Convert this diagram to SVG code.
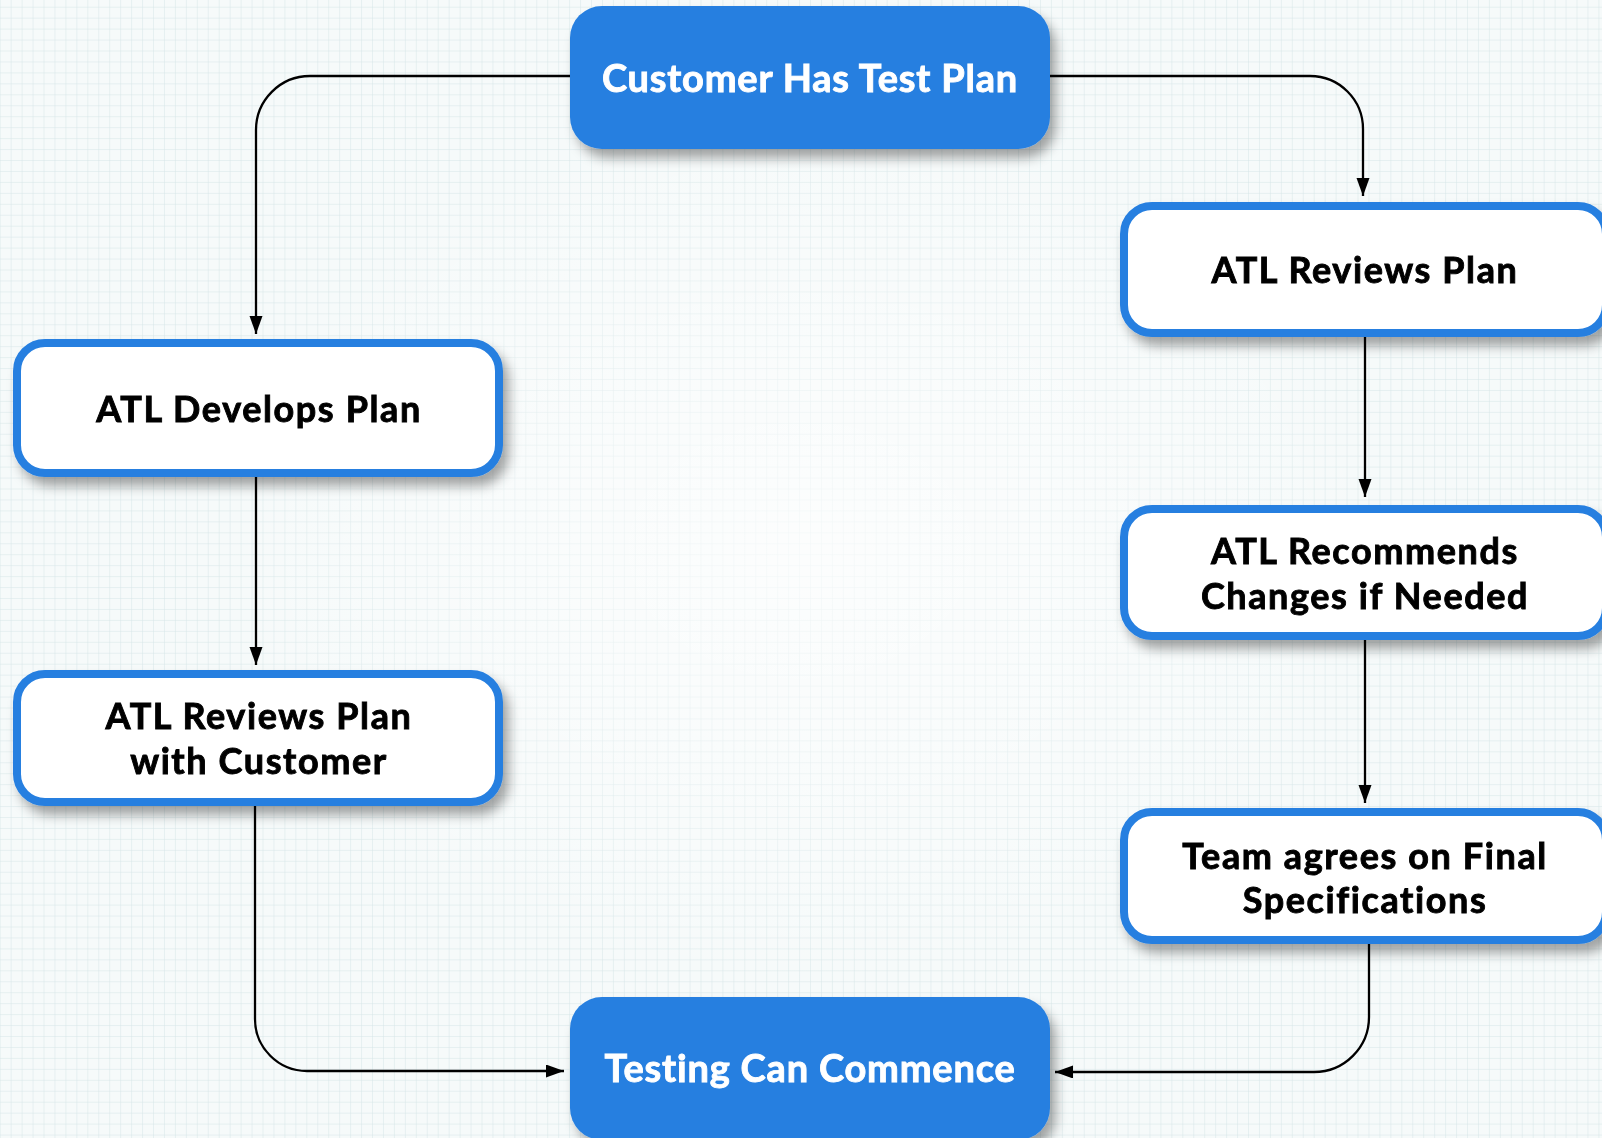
<svg xmlns="http://www.w3.org/2000/svg" width="1602" height="1138" viewBox="0 0 1602 1138">
  <defs>
    <pattern id="grid" x="0.7" y="7.7" width="10.95" height="10.95" patternUnits="userSpaceOnUse">
      <path d="M10.95 0 V10.95 M0 10.95 H10.95" fill="none" stroke="#d6e5e7" stroke-width="1"/>
    </pattern>
    <radialGradient id="glow" cx="50%" cy="50%" r="50%">
      <stop offset="0" stop-color="#ffffff" stop-opacity="0.7"/>
      <stop offset="1" stop-color="#ffffff" stop-opacity="0"/>
    </radialGradient>
    <filter id="shadow" x="-10%" y="-20%" width="125%" height="150%">
      <feDropShadow dx="6" dy="9" stdDeviation="6" flood-color="#000" flood-opacity="0.35"/>
    </filter>
    <marker id="arrow" markerWidth="18" markerHeight="14" refX="18" refY="6.5" orient="auto" markerUnits="userSpaceOnUse">
      <path d="M0,0 L18,6.5 L0,13 z" fill="#000"/>
    </marker>
    <style>
      .blue { fill: #267fe0; }
      .white { fill: #ffffff; stroke: #267fe0; stroke-width: 8; }
      .lblw { font-family: Lato, "Liberation Sans", sans-serif; font-weight: 700; font-size: 38px; letter-spacing: 0.8px; fill: #ffffff; stroke: #ffffff; stroke-width: 0.9; text-anchor: middle; }
      .lblb { font-family: Lato, "Liberation Sans", sans-serif; font-weight: 700; font-size: 36px; letter-spacing: 1.6px; fill: #000000; stroke: #000000; stroke-width: 0.9; text-anchor: middle; }
      .conn { fill: none; stroke: #000; stroke-width: 2.3; marker-end: url(#arrow); }
    </style>
  </defs>

  <rect x="0" y="0" width="1602" height="1138" fill="#f6fafa"/>
  <rect x="0" y="0" width="1602" height="1138" fill="url(#grid)"/>
  <rect x="200" y="100" width="1200" height="900" fill="url(#glow)"/>

  <g id="connectors">
    <path class="conn" d="M570,76 H310 A54,54 0 0 0 256,130 V334"/>
    <path class="conn" d="M1050,76 H1310 A53,53 0 0 1 1363,129 V196"/>
    <path class="conn" d="M1365,337 V497"/>
    <path class="conn" d="M1365,640 V803"/>
    <path class="conn" d="M1369,944 V1017 A55,55 0 0 1 1314,1072 H1055"/>
    <path class="conn" d="M256,477 V665"/>
    <path class="conn" d="M255,806 V1019 A52,52 0 0 0 307,1071 H564"/>
  </g>

  <g id="node-customer-has-test-plan" filter="url(#shadow)">
    <rect class="blue" x="570" y="6" width="480" height="143" rx="32"/>
    <text class="lblw" x="810" y="92">Customer Has Test Plan</text>
  </g>

  <g id="node-atl-develops-plan" filter="url(#shadow)">
    <rect class="white" x="17" y="343" width="482" height="130" rx="28"/>
    <text class="lblb" x="259" y="422">ATL Develops Plan</text>
  </g>

  <g id="node-atl-reviews-plan-with-customer" filter="url(#shadow)">
    <rect class="white" x="17" y="674" width="482" height="128" rx="28"/>
    <text class="lblb" x="259" y="729">ATL Reviews Plan</text>
    <text class="lblb" x="259" y="774">with Customer</text>
  </g>

  <g id="node-atl-reviews-plan" filter="url(#shadow)">
    <rect class="white" x="1124" y="206" width="482" height="127" rx="28"/>
    <text class="lblb" x="1365" y="283">ATL Reviews Plan</text>
  </g>

  <g id="node-atl-recommends" filter="url(#shadow)">
    <rect class="white" x="1124" y="509" width="482" height="127" rx="28"/>
    <text class="lblb" x="1365" y="564">ATL Recommends</text>
    <text class="lblb" x="1365" y="609">Changes if Needed</text>
  </g>

  <g id="node-team-agrees" filter="url(#shadow)">
    <rect class="white" x="1124" y="812" width="482" height="128" rx="28"/>
    <text class="lblb" x="1365" y="869">Team agrees on Final</text>
    <text class="lblb" x="1365" y="913">Specifications</text>
  </g>

  <g id="node-testing-can-commence" filter="url(#shadow)">
    <rect class="blue" x="570" y="997" width="480" height="143" rx="32"/>
    <text class="lblw" x="810" y="1082">Testing Can Commence</text>
  </g>
</svg>
